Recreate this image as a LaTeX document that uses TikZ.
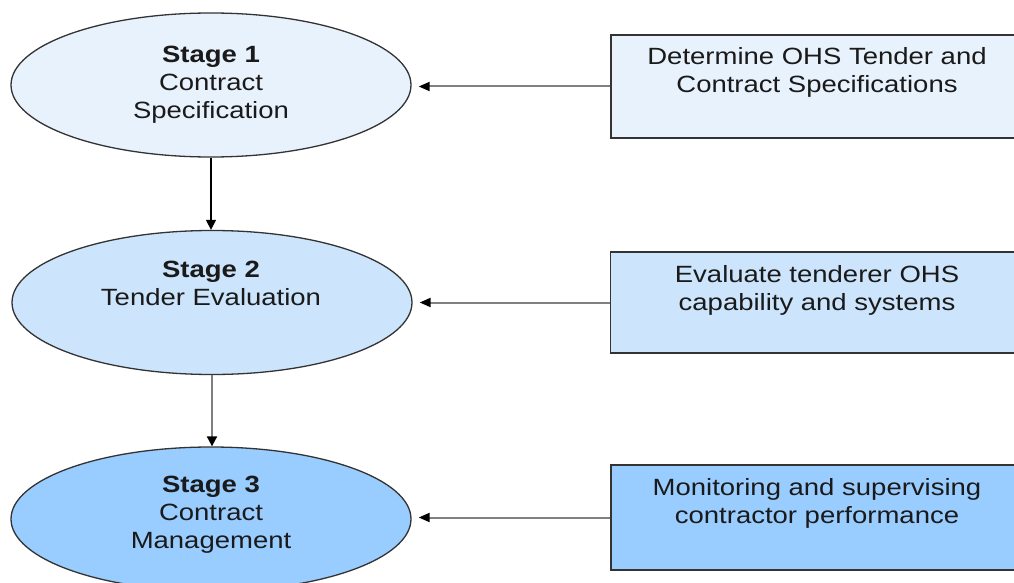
\documentclass[tikz,border=0pt]{standalone}
\usepackage{fontspec}
\setmainfont{Liberation Sans}[FakeStretch=1.17]
\usetikzlibrary{shapes.geometric,arrows.meta}
\definecolor{fillA}{HTML}{E8F2FD}
\definecolor{fillB}{HTML}{CCE5FC}
\definecolor{fillC}{HTML}{99CCFF}
\definecolor{edgeC}{HTML}{333333}
\definecolor{lineG}{HTML}{808080}
\definecolor{txtC}{HTML}{1A1A1A}
\tikzset{
  stageell/.style={ellipse, draw=edgeC, line width=1.3pt, minimum width=400pt, minimum height=144pt, inner sep=0pt},
  taskbox/.style={rectangle, draw=edgeC, line width=1.3pt, minimum width=412pt, inner sep=0pt},
  lbl/.style={anchor=north, inner sep=0pt, align=center, text=txtC, font=\fontsize{23.5}{28}\selectfont},
  harrow/.style={draw=lineG, line width=2pt, shorten >=7pt, -{Triangle[length=11pt,width=9pt,color=black]}},
  varrowA/.style={draw=black, line width=1.4pt, -{Triangle[length=10pt,width=10pt,color=black]}},
  varrowB/.style={draw=lineG, line width=2pt, -{Triangle[length=10pt,width=10pt,color=black]}}
}
\begin{document}
\begin{tikzpicture}[x=1pt,y=-1pt]
\useasboundingbox[fill=white] (0,0) rectangle (1014,583);
% stage ellipses
\node[stageell, fill=fillA] (e1) at (211,85) {};
\node[stageell, fill=fillB] (e2) at (212,302.5) {};
\node[stageell, fill=fillC] (e3) at (211,519) {};
\node[lbl] (t1) at (211,46) {\textbf{Stage 1}\\Contract\\Specification};
\node[lbl] (t2) at (211,261) {\textbf{Stage 2}\\Tender Evaluation};
\node[lbl] (t3) at (211,476) {\textbf{Stage 3}\\Contract\\Management};
% task boxes
\node[taskbox, fill=fillA, minimum height=103pt] (b1) at (817,86.5) {};
\node[taskbox, fill=fillB, minimum height=101pt] (b2) at (816.5,302.5) {};
\node[taskbox, fill=fillC, minimum height=105pt] (b3) at (817,517.5) {};
\node[lbl] (u1) at (817,47.5) {Determine OHS Tender and\\Contract Specifications};
\node[lbl] (u2) at (817,265) {Evaluate tenderer OHS\\capability and systems};
\node[lbl] (u3) at (817,478) {Monitoring and supervising\\contractor performance};
% connectors
\draw[harrow] (b1.west) -- (b1.west -| e1.east);
\draw[harrow] (b2.west) -- (b2.west -| e2.east);
\draw[harrow] (b3.west) -- (b3.west -| e3.east);
\draw[varrowA] (e1.south) -- (e1.south |- e2.north);
\draw[varrowB] (e2.south) -- (e2.south |- e3.north);
\end{tikzpicture}
\end{document}
